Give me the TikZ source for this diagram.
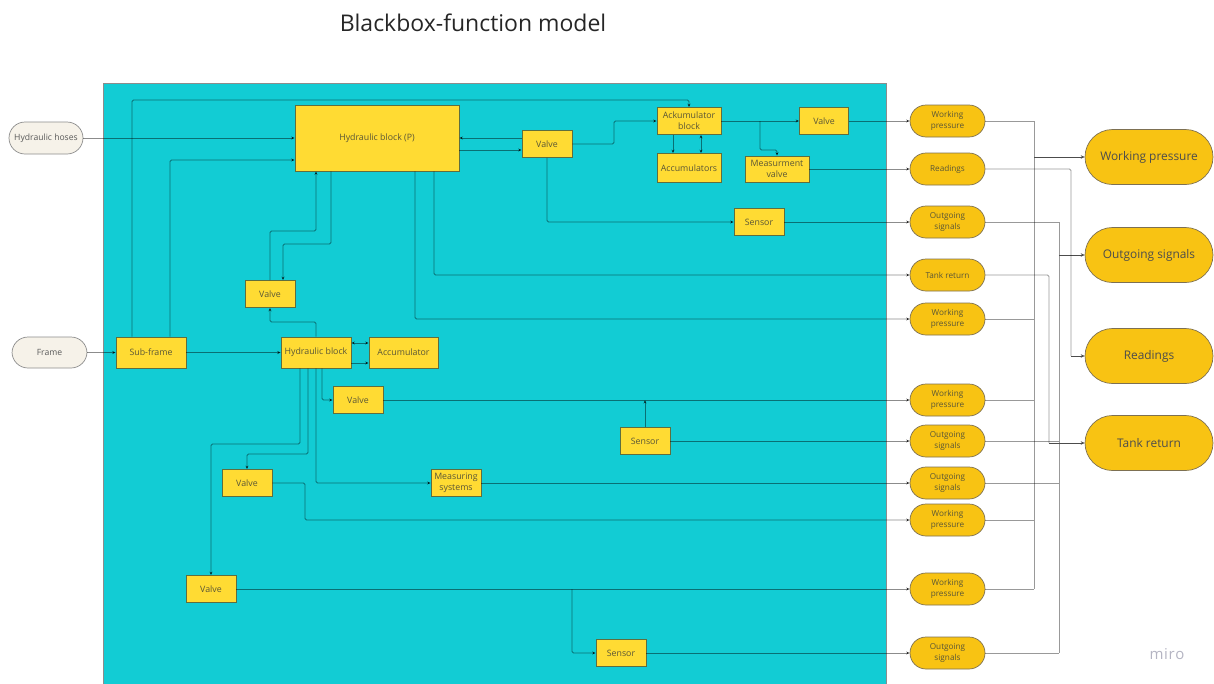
\documentclass[tikz,border=0pt]{standalone}
\usepackage{fontspec}
\setmainfont{Open Sans}
\usetikzlibrary{arrows.meta}
\definecolor{tealbg}{HTML}{12CCD4}
\definecolor{boxfill}{HTML}{FFDB33}
\definecolor{boxedge}{HTML}{5F6E3E}
\definecolor{boxtext}{HTML}{5A5636}
\definecolor{pillfill}{HTML}{F8C313}
\definecolor{pilledge}{HTML}{7D7052}
\definecolor{creamfill}{HTML}{F6F2E9}
\definecolor{logogray}{HTML}{B4B4C2}
\begin{document}
\begin{tikzpicture}[x=1pt,y=-1pt,
  yb/.style={draw=boxedge, fill=boxfill, line width=0.7pt, minimum width=50pt,
    minimum height=27pt, inner sep=1pt, align=center, text=boxtext,
    font=\fontsize{8.8}{10.8}\selectfont},
  pill/.style={draw=pilledge, fill=pillfill, line width=0.7pt, rounded corners=16pt,
    minimum width=75pt, minimum height=32pt, inner sep=1pt, align=center, text=boxtext,
    font=\fontsize{8.2}{11.5}\selectfont},
  bigpill/.style={pill, rounded corners=27.5pt, minimum width=128pt, minimum height=55pt,
    font=\fontsize{11.9}{14}\selectfont, text=black!70},
  inpill/.style={draw=black!45, fill=creamfill, line width=0.7pt, rounded corners=16pt,
    minimum height=32pt, inner sep=1pt, text=black!65, font=\fontsize{8.6}{10}\selectfont},
  conn/.style={draw=black, draw opacity=0.45, line width=0.8pt, rounded corners=1.5pt},
  arr/.style={conn, -{Stealth[length=3.6pt,width=3.2pt]}},
  biarr/.style={conn, {Stealth[length=3.6pt,width=3.2pt]}-{Stealth[length=3.6pt,width=3.2pt]}},
  bigarr/.style={draw=black!70, line width=0.8pt, rounded corners=1.5pt, -{Stealth[length=4pt,width=3.5pt]}},
  outline/.style={draw=black, draw opacity=0.4, line width=0.8pt, rounded corners=1.5pt}
]
\useasboundingbox (0,0) rectangle (1214,683);

% system boundary
\draw[fill=tealbg, draw=black!45, line width=0.8pt] (103,83) rectangle (886,690);

% title
\node[font=\fontsize{23}{27}\selectfont, text=black!85] (title) at (473,23) {Blackbox-function model};

% inputs
\node[inpill, minimum width=74pt] (hoses) at (46,138) {Hydraulic hoses};
\node[inpill, minimum width=75pt, minimum height=31pt] (frame) at (49.5,352.5) {Frame};

% internal blocks
\node[yb, minimum width=164pt, minimum height=66pt] (hbp) at (377,138) {Hydraulic block (P)};
\node[yb] (valt) at (547,144) {Valve};
\node[yb, minimum width=64pt] (ackb) at (689,121) {Ackumulator\\block};
\node[yb, minimum width=64pt, minimum height=29pt] (accs) at (689,168) {Accumulators};
\node[yb, minimum width=49pt] (valr) at (824,121) {Valve};
\node[yb, minimum width=64pt, minimum height=26pt] (meas) at (777,169) {Measurment\\valve};
\node[yb] (sent) at (759,222) {Sensor};
\node[yb] (valm) at (270,294) {Valve};
\node[yb, minimum width=70pt, minimum height=31pt] (sub) at (151,352.5) {Sub-frame};
\node[yb, minimum width=70pt, minimum height=31pt] (hb) at (316,352.5) {Hydraulic block};
\node[yb, minimum width=69pt, minimum height=31pt] (acc) at (403.5,352.5) {Accumulator};
\node[yb] (valb) at (358,400) {Valve};
\node[yb] (sensm) at (645,441) {Sensor};
\node[yb] (valll) at (247,483) {Valve};
\node[yb] (msys) at (456,483) {Measuring\\systems};
\node[yb] (valbot) at (211,589) {Valve};
\node[yb] (sensb) at (621,653) {Sensor};

% outputs of the system
\node[pill] (wp1) at (947.5,121) {Working\\pressure};
\node[pill] (rd)  at (947.5,169) {Readings};
\node[pill] (os1) at (947.5,222) {Outgoing\\signals};
\node[pill] (tr)  at (947.5,275) {Tank return};
\node[pill] (wp2) at (947.5,319) {Working\\pressure};
\node[pill] (wp3) at (947.5,400) {Working\\pressure};
\node[pill] (os2) at (947.5,441) {Outgoing\\signals};
\node[pill] (os3) at (947.5,483) {Outgoing\\signals};
\node[pill] (wp4) at (947.5,520) {Working\\pressure};
\node[pill] (wp5) at (947.5,589) {Working\\pressure};
\node[pill] (os4) at (947.5,653) {Outgoing\\signals};

% summarised outputs
\node[bigpill] (WP) at (1149,157) {Working pressure};
\node[bigpill] (OS) at (1149,255) {Outgoing signals};
\node[bigpill] (RD) at (1149,356) {Readings};
\node[bigpill] (TR) at (1149,443) {Tank return};

% watermark
\node[font=\fontsize{15}{18}\selectfont, text=logogray] (logo) at (1167,654) {m\kern0.6pt i\kern0.6pt r\kern0.6pt o};

% --- connectors inside the system ---
\draw[arr] (hoses.east) -- (hoses.east -| hbp.west);
\draw[arr] (frame.east) -- (sub.west);
\draw[arr] (sub.east) -- (hb.west);
\draw[arr] (132,0 |- sub.north) -- (132,100) -| (ackb.north);
\draw[arr] (170,0 |- sub.north) |- (hbp.west |- 0,160);
\draw[biarr] (hb.east |- 0,343) -- (acc.west |- 0,343);
\draw[arr] (hb.east |- 0,363) -- (acc.west |- 0,363);
\draw[arr] (hb.north) -- (316,322) -| (valm.south);
\draw[arr] (valm.north) -- (270,231) -| (316,0 |- hbp.south);
\draw[arr] (331,0 |- hbp.south) -- (331,244) -| (283,0 |- valm.north);
\draw[arr] (415,0 |- hbp.south) |- (wp2.west);
\draw[arr] (434,0 |- hbp.south) |- (tr.west);
\draw[arr] (valt.west |- 0,138) -- (hbp.east |- 0,138);
\draw[arr] (hbp.east |- 0,150) -- (valt.west |- 0,150);
\draw[arr] (valt.east) -- (614,144) |- (ackb.west);
\draw[arr] (valt.south) |- (sent.west);
\draw[arr] (673,0 |- ackb.south) -- (673,0 |- accs.north);
\draw[biarr] (701,0 |- ackb.south) -- (701,0 |- accs.north);
\draw[arr] (ackb.east) -- (valr.west);
\draw[arr] (760,121) -- (760,150) -| (meas.north);
\draw[arr] (valr.east) -- (wp1.west);
\draw[arr] (meas.east) -- (rd.west);
\draw[arr] (sent.east) -- (os1.west);
\draw[arr] (322,0 |- hb.south) |- (valb.west);
\draw[arr] (300,0 |- hb.south) -- (300,444) -| (valbot.north);
\draw[arr] (308,0 |- hb.south) -- (308,454) -| (valll.north);
\draw[arr] (316,0 |- hb.south) |- (msys.west);
\draw[arr] (valb.east) -- (wp3.west);
\coordinate (jsens) at (645,400);
\draw[arr] (sensm.north) -- (jsens);
\draw[arr] (sensm.east) -- (os2.west);
\draw[arr] (msys.east) -- (os3.west);
\draw[arr] (valll.east) -- (305,483) |- (wp4.west);
\draw[arr] (valbot.east) -- (wp5.west);
\draw[arr] (572,589) |- (sensb.west);
\draw[arr] (sensb.east) -- (os4.west);

% --- collecting the outputs ---
\foreach \n in {wp1,wp2,wp3,wp4,wp5} \draw[outline] (\n.east) -- (1034,0 |- \n.east);
\draw[outline] (1034,121) -- (1034,589);
\draw[bigarr] (1034,0 |- WP.west) -- (WP.west);
\foreach \n in {os1,os2,os3,os4} \draw[outline] (\n.east) -- (1059,0 |- \n.east);
\draw[outline] (1059,222) -- (1059,653);
\draw[bigarr] (1059,0 |- OS.west) -- (OS.west);
\draw[outline] (rd.east) -- (1071,169) -- (1071,356);
\draw[bigarr] (1071,356) -- (RD.west);
\draw[outline] (tr.east) -- (1049,275) -- (1049,443);
\draw[bigarr] (1049,443) -- (TR.west);
\end{tikzpicture}
\end{document}
